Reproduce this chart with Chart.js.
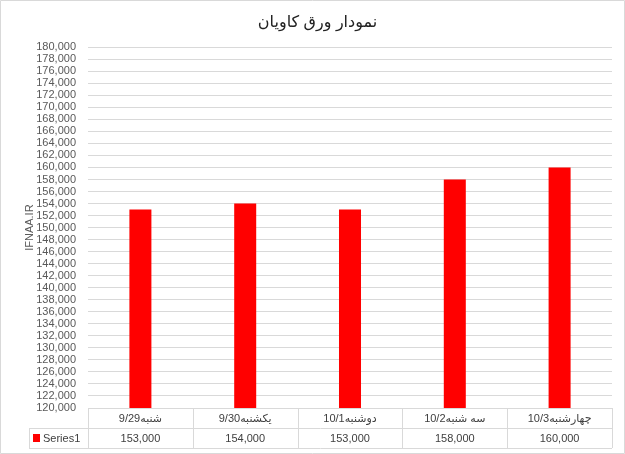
<!DOCTYPE html>
<html>
<head>
<meta charset="utf-8">
<script src="https://cdn.jsdelivr.net/npm/chart.js@4/dist/chart.umd.min.js"></script>
<style>
  html, body { margin:0; padding:0; background:#fff; }
  #wrap { width:625px; height:454px; position:relative; }
</style>
</head>
<body>
<div id="wrap"><canvas id="c" width="625" height="454"></canvas></div>
<script>
const categories = ['9/29شنبه', '9/30یکشنبه', '10/1دوشنبه', '10/2سه شنبه', '10/3چهارشنبه'];
const seriesName = 'Series1';
const values = [153000, 154000, 153000, 158000, 160000];
const yMin = 120000, yMax = 180000, yStep = 2000;

const FONT = '"Liberation Sans", "DejaVu Sans", sans-serif';
const fmt = (v) => Number(v).toLocaleString('en-US');
const GRID = '#d9d9d9';
const TEXT = '#404040';

// data table under the plot, plus outer frame
const tablePlugin = {
  id: 'dataTable',
  afterDraw(chart) {
    const {ctx, chartArea: a, scales: {x}} = chart;
    const rowH = 20;
    const top = a.bottom, mid = top + rowH, bot = top + rowH * 2;
    const keyLeft = 29;
    const step = (a.right - a.left) / categories.length;
    ctx.save();
    ctx.strokeStyle = GRID;
    ctx.lineWidth = 1;
    ctx.beginPath();
    ctx.moveTo(a.left, top + 0.5); ctx.lineTo(a.right, top + 0.5);
    ctx.moveTo(keyLeft, mid + 0.5); ctx.lineTo(a.right, mid + 0.5);
    ctx.moveTo(keyLeft, bot + 0.5); ctx.lineTo(a.right, bot + 0.5);
    ctx.moveTo(keyLeft + 0.5, mid); ctx.lineTo(keyLeft + 0.5, bot);
    for (let i = 0; i <= categories.length; i++) {
      const px = Math.round(a.left + step * i) + 0.5;
      ctx.moveTo(px, top); ctx.lineTo(px, bot);
    }
    ctx.rect(0.5, 0.5, chart.width - 1, chart.height - 1);
    ctx.stroke();

    ctx.fillStyle = TEXT;
    ctx.font = '11px ' + FONT;
    ctx.textAlign = 'center';
    ctx.textBaseline = 'middle';
    categories.forEach((c, i) => {
      const cx = x.getPixelForValue(i);
      ctx.fillText(c, cx, top + rowH / 2 + 1);
      ctx.fillText(fmt(values[i]), cx, mid + rowH / 2 + 1);
    });
    ctx.fillStyle = '#ff0000';
    ctx.fillRect(33, mid + 6, 7, 8);
    ctx.fillStyle = TEXT;
    ctx.textAlign = 'left';
    ctx.fillText(seriesName, 43, mid + rowH / 2 + 1);
    ctx.restore();
  }
};

new Chart(document.getElementById('c'), {
  type: 'bar',
  data: {
    labels: categories,
    datasets: [{
      label: seriesName,
      data: values,
      backgroundColor: '#ff0000',
      borderWidth: 0,
      categoryPercentage: 1,
      barPercentage: 0.21
    }]
  },
  options: {
    responsive: false,
    animation: false,
    layout: {padding: {left: 23, right: 13, top: 8, bottom: 46}},
    plugins: {
      legend: {display: false},
      tooltip: {enabled: false},
      title: {
        display: true,
        text: 'نمودار ورق کاویان',
        color: '#222',
        font: {family: FONT, size: 16, weight: 'normal'},
        padding: {top: 5, bottom: 15}
      }
    },
    scales: {
      x: {display: false},
      y: {
        min: yMin, max: yMax,
        afterFit: (s) => { s.width = 65; },
        border: {display: false},
        grid: {color: GRID, drawTicks: false},
        ticks: {
          stepSize: yStep,
          autoSkip: false,
          padding: 12,
          color: '#595959',
          font: {family: FONT, size: 11},
          callback: (v) => fmt(v)
        },
        title: {
          display: true,
          text: 'IFNAA.IR',
          color: '#595959',
          font: {family: FONT, size: 11},
          padding: 0
        }
      }
    }
  },
  plugins: [tablePlugin]
});
</script>
</body>
</html>
